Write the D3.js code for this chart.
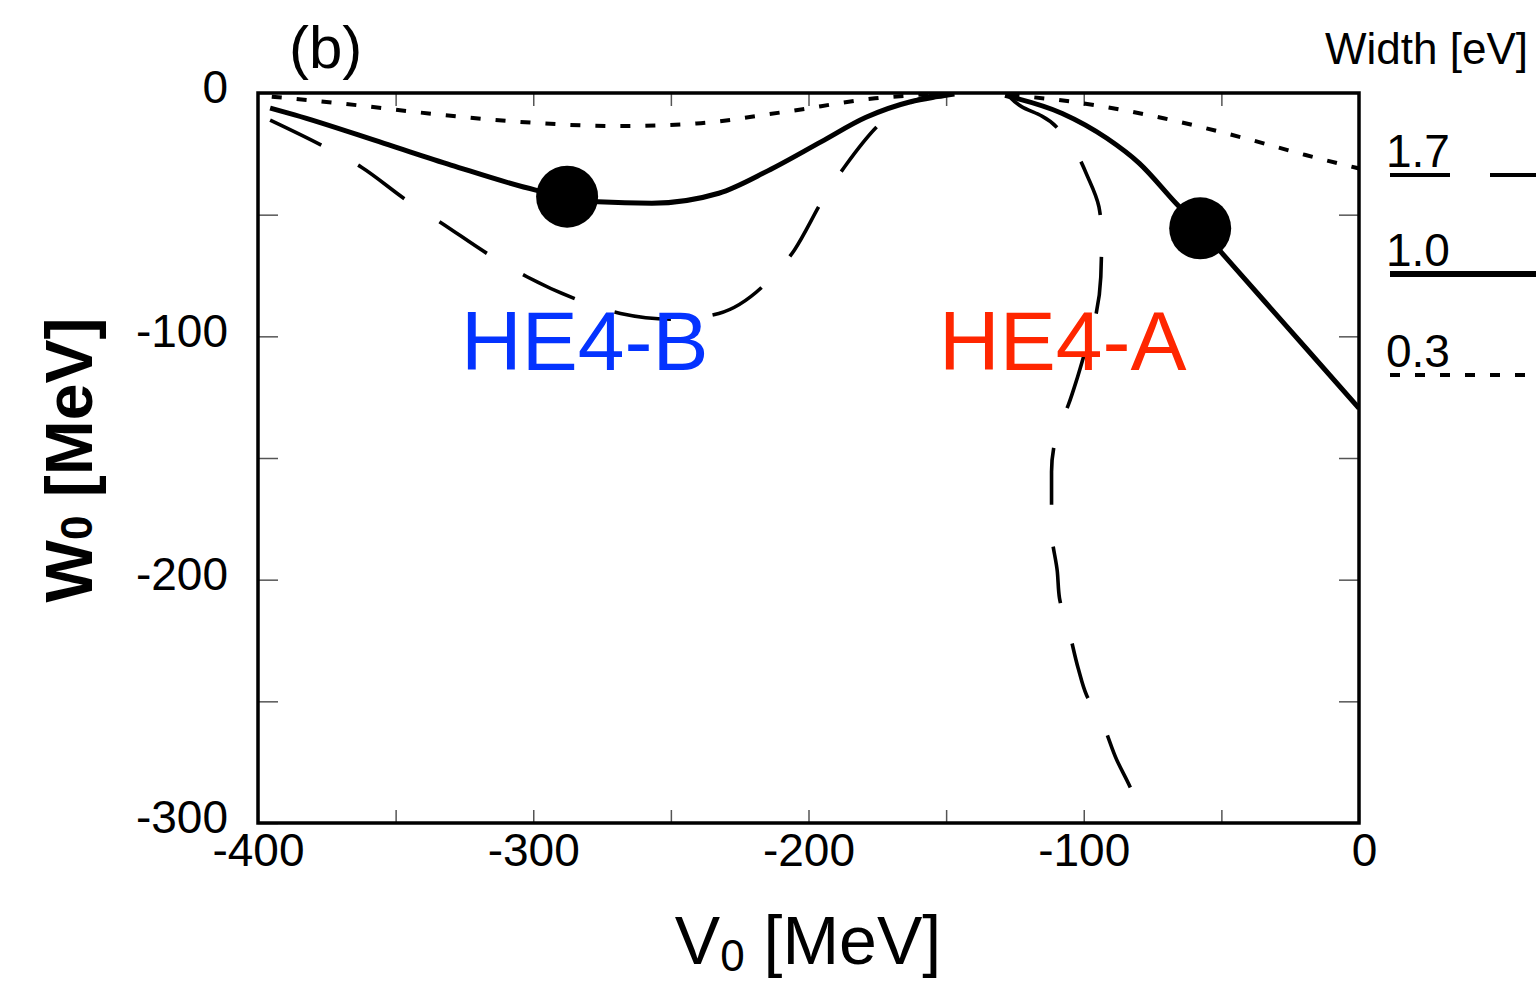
<!DOCTYPE html>
<html>
<head>
<meta charset="utf-8">
<script src="https://cdn.jsdelivr.net/npm/d3@7"></script>
<style>
  html, body { margin: 0; padding: 0; background: #fff; }
  svg { display: block; font-family: "Liberation Sans", Arial, Helvetica, sans-serif; }
</style>
</head>
<body>
<svg id="chart" width="1536" height="982"></svg>
<script>
// ---- data (V0, W0) in MeV ----
const xTicks = [-400, -350, -300, -250, -200, -150, -100, -50, 0];
const yTicks = [0, -50, -100, -150, -200, -250, -300];
const legendLabels = ["1.7", "1.0", "0.3"];

const solidLeft = [[-395.6,-6.2],[-386.7,-9],[-354.2,-20.7],[-329.9,-29.6],[-299.1,-39.9],[-287.7,-42.6],[-276.5,-44.7],[-256.9,-45.3],[-232.6,-41.2],[-214.8,-32],[-195.3,-20],[-179.1,-10],[-162.9,-3.6],[-153.1,-1.5],[-147,-0.4]];
const solidRight = [[-128.6,-1.0],[-107.8,-8.4],[-91.6,-18.6],[-79.8,-28.9],[-66.5,-45.3],[-57.7,-55.6],[-48.9,-66.9],[-34.1,-85.9],[-19.4,-104.7],[0,-129.6]];
const dashedLeft = [[-395.6,-11.1],[-377,-21.4],[-362.4,-30.5],[-346.1,-44],[-333.1,-53.6],[-315.3,-67],[-302.3,-75.5],[-282.9,-85.4],[-268.3,-90.6],[-248.8,-93],[-232.6,-90.6],[-214.8,-77.5],[-205.1,-64.5],[-194.5,-43.3],[-186.4,-29.6],[-172.6,-11.1],[-160,-2.5],[-153,-0.5]];
const dashedRight = [[-127,-1.5],[-122.6,-5.6],[-115.2,-9.5],[-105.6,-20],[-98.3,-35.1],[-94.5,-46.7],[-93.5,-58.4],[-93.8,-75.5],[-96,-93.3],[-99.7,-107],[-102.6,-118],[-105.6,-128.2],[-109.3,-138.5],[-111.7,-155.6],[-111.7,-179.6],[-109.6,-196.7],[-108.8,-207.7],[-105.6,-220],[-102,-236.5],[-99,-247.4],[-93.5,-258.4],[-88,-274.1],[-83.2,-285.1],[-78.4,-299]];
const dottedLeft = [[-395,-1.5],[-370.6,-4.2],[-338,-8.4],[-305.6,-11.8],[-269,-13.6],[-240.7,-12.5],[-208.3,-7.7],[-175.8,-2.2],[-156.6,-0.5]];
const dottedRight = [[-127,-0.8],[-100.4,-4.2],[-71,-10.4],[-41.5,-18.6],[-19.4,-25.5],[0,-31]];
const dots = [[-287.7,-42.6],[-57.7,-55.6]];

// ---- layout ----
const L = 258, R = 1359, T = 93, B = 823;
const svg = d3.select("#chart");
const x = d3.scaleLinear().domain([-400, 0]).range([L, R]);
const y = d3.scaleLinear().domain([-300, 0]).range([B, T]);

const styles = {
  solid:  { w: 5,   dash: null },
  dashed: { w: 3.6, dash: "57,42" },
  dotted: { w: 4,   dash: "10,15" }
};

svg.append("defs").append("clipPath").attr("id", "clip")
  .append("rect").attr("x", L).attr("y", T).attr("width", R - L).attr("height", B - T);

// axes (ticks inward, all four sides)
const fmt = d => (d % 100 === 0 ? String(d) : "");
const gB = svg.append("g").attr("transform", `translate(0,${B})`)
  .call(d3.axisBottom(x).tickValues(xTicks).tickSize(-13).tickPadding(10).tickFormat(fmt));
const gT = svg.append("g").attr("transform", `translate(0,${T})`)
  .call(d3.axisTop(x).tickValues(xTicks.slice(1, -1)).tickSize(-13).tickFormat(""));
const gL = svg.append("g").attr("transform", `translate(${L},0)`)
  .call(d3.axisLeft(y).tickValues(yTicks).tickSize(-20).tickPadding(30).tickFormat(fmt));
const gR = svg.append("g").attr("transform", `translate(${R},0)`)
  .call(d3.axisRight(y).tickValues(yTicks.slice(1, -1)).tickSize(-20).tickFormat(""));

[gB, gT, gL, gR].forEach(g => {
  g.select(".domain").remove();
  g.selectAll(".tick line").attr("stroke", "#555").attr("stroke-width", 1.5);
  g.selectAll(".tick text").attr("fill", "#000").attr("font-size", 46)
    .attr("font-family", "Liberation Sans, Arial, sans-serif");
});
gL.selectAll(".tick text").attr("dy", "0.32em").attr("y", -5);
gB.selectAll(".tick text").attr("dy", "0.71em");
gB.selectAll(".tick").filter(d => d === 0).select("text").attr("x", 5);

// curves
const lineX = d3.line().x(d => x(d[0])).y(d => y(d[1])).curve(d3.curveMonotoneX);
const lineY = d3.line().x(d => x(d[0])).y(d => y(d[1])).curve(d3.curveMonotoneY);
const plot = svg.append("g").attr("clip-path", "url(#clip)");
const series = [
  [solidLeft, "solid", lineX], [solidRight, "solid", lineX],
  [dashedLeft, "dashed", lineX], [dashedRight, "dashed", lineY],
  [dottedLeft, "dotted", lineX], [dottedRight, "dotted", lineX]
];
series.forEach(([data, s, gen]) => {
  plot.append("path").datum(data).attr("d", gen)
    .attr("fill", "none").attr("stroke", "#000")
    .attr("stroke-width", styles[s].w)
    .attr("stroke-dasharray", styles[s].dash)
    .attr("stroke-linecap", "butt").attr("stroke-linejoin", "round");
});

// dots
svg.append("g").selectAll("circle").data(dots).join("circle")
  .attr("cx", d => x(d[0])).attr("cy", d => y(d[1])).attr("r", 31).attr("fill", "#000");

// frame
svg.append("rect").attr("x", L).attr("y", T).attr("width", R - L).attr("height", B - T)
  .attr("fill", "none").attr("stroke", "#000").attr("stroke-width", 3.5);

// labels
svg.append("text").attr("x", 289).attr("y", 68).attr("font-size", 60).text("(b)");

const xl = svg.append("text").attr("x", 808).attr("y", 964).attr("text-anchor", "middle").attr("font-size", 68);
xl.append("tspan").text("V");
xl.append("tspan").attr("font-size", 44).attr("dy", 7).text("0");
xl.append("tspan").attr("dy", -7).text(" [MeV]");

const yl = svg.append("text").attr("transform", "translate(92,460) rotate(-90)")
  .attr("text-anchor", "middle").attr("font-size", 66).attr("font-weight", "bold");
yl.append("tspan").text("W");
yl.append("tspan").attr("font-size", 44).text("0");
yl.append("tspan").text(" [MeV]");

svg.append("text").attr("x", 461).attr("y", 370).attr("font-size", 84).attr("fill", "#0433FF").text("HE4-B");
svg.append("text").attr("x", 939).attr("y", 370).attr("font-size", 84).attr("fill", "#FF2600").text("HE4-A");

// legend
svg.append("text").attr("x", 1325).attr("y", 64).attr("font-size", 44).text("Width [eV]");
const legY = [175, 274, 375];
const legStyle = ["dashed", "solid", "dotted"];
legendLabels.forEach((lab, i) => {
  svg.append("text").attr("x", 1386).attr("y", legY[i] - 8).attr("font-size", 46).text(lab);
  svg.append("line").attr("x1", 1390).attr("x2", 1560).attr("y1", legY[i]).attr("y2", legY[i])
    .attr("stroke", "#000").attr("stroke-width", legStyle[i] === "solid" ? 6 : 4)
    .attr("stroke-dasharray", legStyle[i] === "dashed" ? "60,40" : (legStyle[i] === "dotted" ? "10,15" : null));
});
</script>
</body>
</html>
